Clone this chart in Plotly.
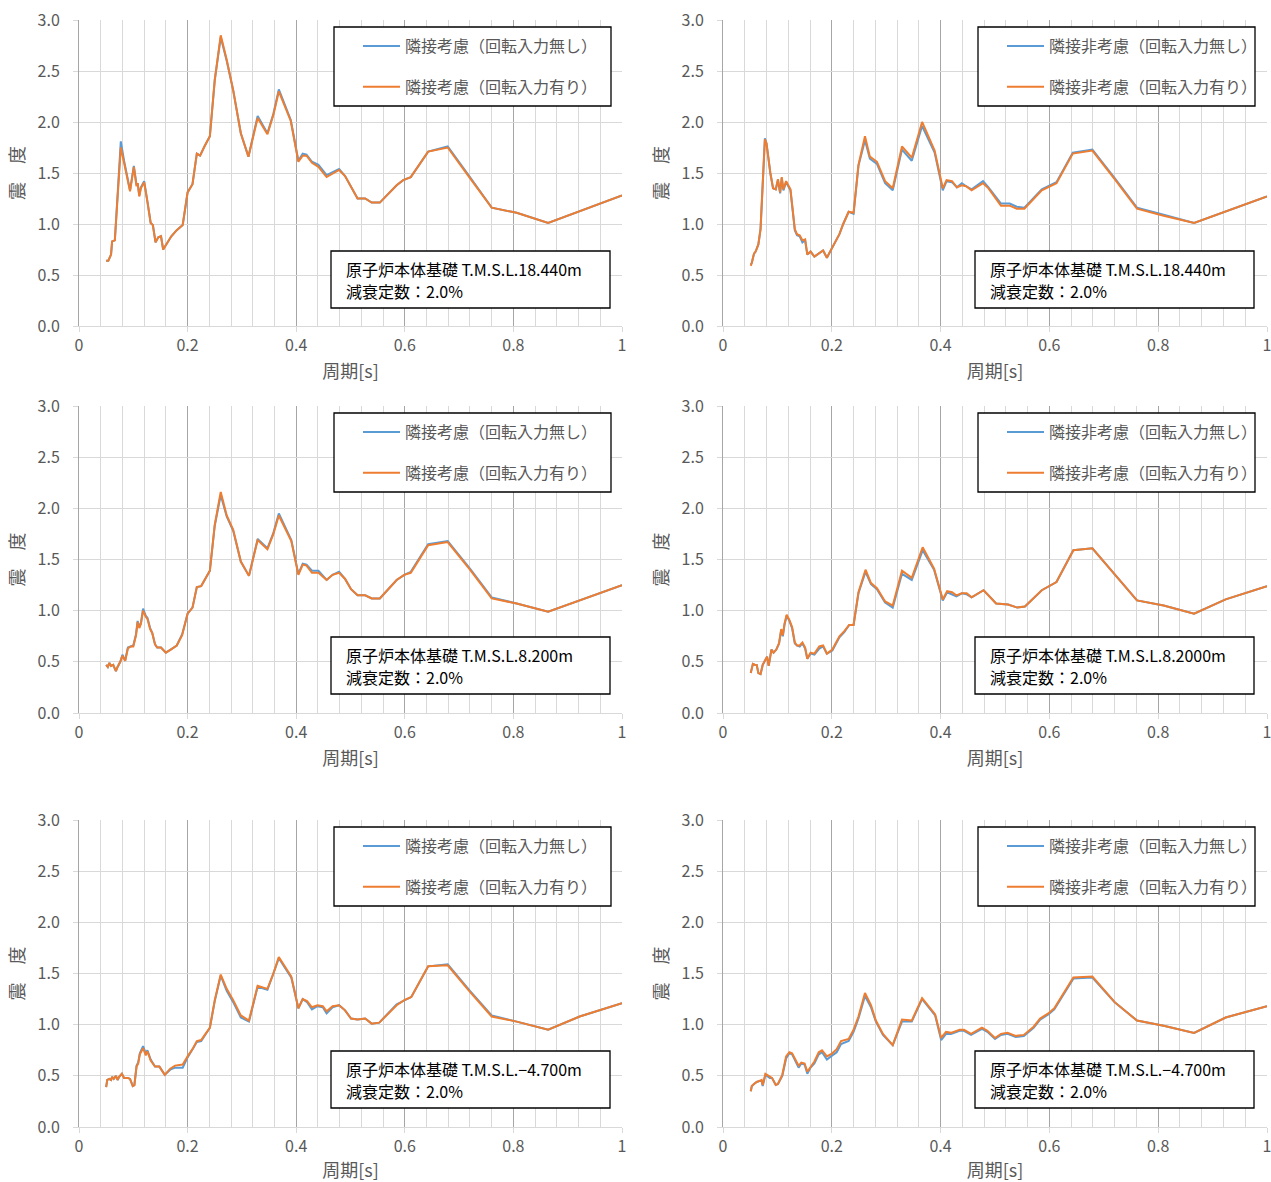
import plotly.graph_objects as go

# ---------------- data ----------------
T1 = [0.050,0.054,0.059,0.061,0.066,0.077,0.083,0.090,0.094,0.101,0.106,0.108,0.111,0.114,0.120,0.126,0.132,0.136,0.141,0.146,0.151,0.155,0.161,0.170,0.180,0.191,0.200,0.209,0.217,0.223,0.231,0.241,0.250,0.261,0.272,0.284,0.298,0.312,0.329,0.347,0.358,0.368,0.390,0.404,0.412,0.419,0.429,0.441,0.456,0.479,0.490,0.513,0.527,0.539,0.554,0.585,0.597,0.611,0.643,0.679,0.720,0.760,0.806,0.864,1.000]
O1 = [0.64,0.64,0.70,0.83,0.84,1.75,1.60,1.40,1.32,1.56,1.37,1.40,1.27,1.35,1.41,1.22,1.01,0.99,0.82,0.87,0.88,0.75,0.80,0.88,0.94,0.99,1.31,1.39,1.69,1.67,1.76,1.86,2.41,2.85,2.61,2.31,1.89,1.66,2.04,1.88,2.07,2.30,2.01,1.61,1.67,1.67,1.60,1.56,1.46,1.53,1.47,1.25,1.25,1.21,1.21,1.38,1.43,1.46,1.71,1.75,1.45,1.16,1.11,1.01,1.28]
B1 = [0.64,0.64,0.70,0.83,0.84,1.81,1.62,1.41,1.33,1.57,1.38,1.40,1.28,1.36,1.42,1.22,1.01,0.99,0.82,0.87,0.88,0.75,0.80,0.88,0.94,0.99,1.31,1.39,1.69,1.67,1.76,1.86,2.41,2.83,2.60,2.31,1.89,1.66,2.06,1.89,2.08,2.32,2.02,1.62,1.69,1.68,1.61,1.58,1.48,1.54,1.47,1.25,1.25,1.21,1.21,1.38,1.43,1.46,1.71,1.76,1.46,1.16,1.11,1.01,1.28]

T2 = [0.051,0.053,0.057,0.060,0.065,0.069,0.077,0.080,0.087,0.092,0.097,0.101,0.105,0.108,0.111,0.116,0.124,0.132,0.136,0.141,0.146,0.151,0.155,0.161,0.168,0.184,0.191,0.202,0.214,0.221,0.231,0.240,0.249,0.261,0.270,0.283,0.298,0.312,0.329,0.347,0.366,0.389,0.404,0.411,0.421,0.430,0.439,0.447,0.457,0.478,0.488,0.511,0.527,0.540,0.554,0.586,0.613,0.643,0.679,0.720,0.761,0.810,0.866,1.000]
O2 = [0.59,0.62,0.71,0.73,0.80,0.95,1.83,1.79,1.50,1.35,1.34,1.44,1.31,1.46,1.34,1.42,1.34,0.95,0.90,0.89,0.84,0.85,0.70,0.73,0.68,0.74,0.67,0.78,0.90,1.00,1.12,1.11,1.58,1.86,1.66,1.61,1.42,1.35,1.76,1.65,2.00,1.72,1.35,1.43,1.42,1.36,1.38,1.37,1.33,1.40,1.35,1.18,1.18,1.15,1.15,1.33,1.40,1.69,1.72,1.44,1.15,1.08,1.01,1.27]
B2 = [0.60,0.62,0.71,0.73,0.80,0.95,1.84,1.79,1.50,1.35,1.34,1.43,1.30,1.45,1.33,1.41,1.33,0.94,0.89,0.88,0.82,0.84,0.70,0.73,0.68,0.74,0.67,0.78,0.90,1.00,1.12,1.10,1.57,1.82,1.64,1.59,1.40,1.33,1.73,1.62,1.96,1.70,1.33,1.42,1.41,1.36,1.40,1.37,1.34,1.42,1.36,1.20,1.20,1.17,1.16,1.34,1.41,1.70,1.73,1.45,1.16,1.09,1.01,1.27]

T3 = [0.050,0.053,0.056,0.059,0.063,0.068,0.071,0.076,0.080,0.085,0.090,0.095,0.100,0.105,0.108,0.111,0.114,0.118,0.123,0.126,0.131,0.135,0.140,0.144,0.151,0.160,0.169,0.180,0.190,0.200,0.209,0.217,0.225,0.233,0.241,0.250,0.261,0.272,0.284,0.298,0.313,0.329,0.347,0.358,0.368,0.391,0.404,0.412,0.419,0.429,0.441,0.456,0.467,0.479,0.490,0.501,0.513,0.527,0.539,0.554,0.585,0.599,0.611,0.643,0.679,0.720,0.760,0.806,0.864,1.000]
O3 = [0.47,0.45,0.49,0.46,0.47,0.41,0.45,0.50,0.56,0.51,0.63,0.65,0.65,0.76,0.89,0.83,0.87,1.00,0.94,0.92,0.82,0.78,0.67,0.64,0.64,0.59,0.62,0.66,0.76,0.97,1.03,1.23,1.24,1.31,1.39,1.84,2.16,1.93,1.79,1.48,1.34,1.69,1.60,1.75,1.93,1.68,1.35,1.45,1.44,1.37,1.37,1.30,1.35,1.37,1.31,1.21,1.15,1.15,1.12,1.12,1.30,1.35,1.37,1.64,1.67,1.40,1.12,1.07,0.99,1.25]
B3 = [0.47,0.45,0.49,0.46,0.47,0.41,0.45,0.50,0.57,0.51,0.64,0.65,0.66,0.77,0.90,0.84,0.88,1.02,0.95,0.93,0.83,0.78,0.67,0.64,0.64,0.59,0.62,0.66,0.77,0.97,1.03,1.23,1.24,1.31,1.39,1.83,2.13,1.92,1.78,1.48,1.34,1.70,1.61,1.76,1.95,1.69,1.36,1.46,1.45,1.39,1.39,1.30,1.35,1.38,1.31,1.21,1.15,1.15,1.12,1.12,1.30,1.35,1.38,1.65,1.68,1.41,1.13,1.07,0.99,1.25]

T4 = [0.051,0.055,0.059,0.062,0.065,0.069,0.073,0.078,0.081,0.084,0.089,0.093,0.098,0.103,0.107,0.110,0.113,0.117,0.122,0.127,0.132,0.136,0.141,0.146,0.151,0.155,0.161,0.168,0.177,0.184,0.191,0.201,0.214,0.223,0.232,0.240,0.249,0.262,0.272,0.283,0.298,0.312,0.329,0.347,0.367,0.388,0.404,0.412,0.421,0.429,0.439,0.448,0.457,0.479,0.490,0.502,0.524,0.541,0.555,0.586,0.613,0.644,0.679,0.720,0.761,0.810,0.866,0.924,1.000]
O4 = [0.39,0.48,0.47,0.47,0.39,0.38,0.47,0.52,0.55,0.46,0.62,0.59,0.62,0.68,0.82,0.76,0.87,0.96,0.91,0.84,0.69,0.66,0.66,0.69,0.64,0.53,0.59,0.58,0.65,0.66,0.58,0.62,0.75,0.80,0.86,0.86,1.18,1.40,1.27,1.22,1.09,1.05,1.39,1.32,1.62,1.41,1.11,1.19,1.18,1.15,1.17,1.17,1.13,1.20,1.14,1.07,1.06,1.03,1.04,1.20,1.28,1.59,1.61,1.35,1.10,1.05,0.97,1.11,1.24]
B4 = [0.39,0.48,0.47,0.47,0.39,0.38,0.47,0.52,0.55,0.46,0.62,0.59,0.62,0.68,0.81,0.75,0.86,0.95,0.90,0.83,0.68,0.66,0.65,0.68,0.63,0.53,0.58,0.57,0.63,0.65,0.58,0.61,0.74,0.79,0.86,0.86,1.17,1.38,1.26,1.21,1.08,1.03,1.36,1.30,1.59,1.40,1.10,1.18,1.16,1.14,1.17,1.16,1.13,1.20,1.14,1.07,1.06,1.03,1.04,1.20,1.28,1.59,1.61,1.35,1.10,1.05,0.97,1.11,1.24]

T5 = [0.050,0.052,0.056,0.059,0.061,0.064,0.068,0.071,0.074,0.079,0.083,0.090,0.094,0.099,0.102,0.106,0.109,0.112,0.118,0.123,0.126,0.132,0.140,0.148,0.158,0.168,0.177,0.191,0.200,0.210,0.217,0.225,0.233,0.241,0.250,0.261,0.272,0.284,0.298,0.313,0.329,0.347,0.358,0.368,0.391,0.404,0.412,0.420,0.429,0.439,0.449,0.456,0.467,0.479,0.490,0.501,0.513,0.527,0.539,0.553,0.585,0.599,0.612,0.643,0.679,0.720,0.760,0.806,0.864,0.922,1.000]
O5 = [0.39,0.46,0.47,0.46,0.49,0.47,0.50,0.46,0.49,0.52,0.48,0.48,0.47,0.40,0.41,0.59,0.62,0.71,0.77,0.70,0.74,0.65,0.59,0.59,0.51,0.57,0.60,0.61,0.69,0.77,0.84,0.85,0.91,0.97,1.24,1.49,1.35,1.24,1.09,1.04,1.38,1.35,1.50,1.66,1.47,1.16,1.25,1.23,1.17,1.19,1.18,1.13,1.18,1.19,1.14,1.06,1.05,1.06,1.01,1.02,1.19,1.24,1.27,1.57,1.58,1.32,1.08,1.03,0.95,1.08,1.21]
B5 = [0.39,0.46,0.47,0.46,0.49,0.47,0.50,0.46,0.49,0.52,0.48,0.48,0.47,0.40,0.41,0.60,0.63,0.72,0.79,0.72,0.75,0.66,0.59,0.59,0.51,0.56,0.58,0.58,0.68,0.77,0.83,0.84,0.90,0.97,1.23,1.48,1.33,1.22,1.07,1.03,1.37,1.34,1.50,1.65,1.46,1.16,1.25,1.22,1.15,1.18,1.17,1.11,1.17,1.19,1.14,1.06,1.05,1.06,1.01,1.02,1.20,1.24,1.27,1.57,1.59,1.33,1.09,1.03,0.95,1.08,1.21]

T6 = [0.051,0.053,0.057,0.062,0.067,0.071,0.073,0.078,0.081,0.086,0.090,0.097,0.101,0.109,0.116,0.122,0.127,0.132,0.139,0.144,0.150,0.155,0.161,0.168,0.176,0.182,0.191,0.201,0.209,0.217,0.231,0.240,0.249,0.261,0.272,0.281,0.294,0.312,0.329,0.347,0.366,0.390,0.401,0.410,0.419,0.435,0.443,0.456,0.476,0.486,0.500,0.511,0.523,0.538,0.553,0.571,0.583,0.598,0.609,0.644,0.679,0.720,0.761,0.810,0.866,0.924,1.000]
O6 = [0.35,0.40,0.42,0.44,0.45,0.46,0.41,0.52,0.51,0.49,0.48,0.41,0.42,0.51,0.69,0.73,0.72,0.67,0.60,0.63,0.62,0.54,0.59,0.64,0.73,0.75,0.69,0.72,0.76,0.84,0.86,0.95,1.08,1.31,1.19,1.04,0.91,0.80,1.05,1.04,1.26,1.10,0.87,0.93,0.92,0.95,0.95,0.91,0.97,0.94,0.87,0.91,0.92,0.89,0.90,0.98,1.06,1.11,1.16,1.46,1.47,1.22,1.04,0.99,0.92,1.07,1.18]
B6 = [0.35,0.40,0.42,0.44,0.45,0.45,0.40,0.51,0.50,0.48,0.48,0.41,0.42,0.50,0.67,0.72,0.71,0.66,0.58,0.62,0.61,0.52,0.58,0.62,0.71,0.73,0.66,0.70,0.73,0.81,0.84,0.93,1.06,1.28,1.17,1.03,0.90,0.80,1.03,1.03,1.25,1.09,0.85,0.91,0.91,0.94,0.94,0.90,0.96,0.93,0.86,0.90,0.91,0.88,0.89,0.97,1.05,1.10,1.15,1.45,1.46,1.22,1.04,0.99,0.92,1.07,1.18]

LEG_ADJ = ["隣接考慮（回転入力無し）", "隣接考慮（回転入力有り）"]
LEG_NON = ["隣接非考慮（回転入力無し）", "隣接非考慮（回転入力有り）"]
LOC = ["原子炉本体基礎 T.M.S.L.18.440m", "原子炉本体基礎 T.M.S.L.18.440m",
       "原子炉本体基礎 T.M.S.L.8.200m", "原子炉本体基礎 T.M.S.L.8.2000m",
       "原子炉本体基礎 T.M.S.L.−4.700m", "原子炉本体基礎 T.M.S.L.−4.700m"]
DAMP = "減衰定数：2.0%"
X_TICKS = [0, 0.2, 0.4, 0.6, 0.8, 1.0]
X_TICKTEXT = ["0", "0.2", "0.4", "0.6", "0.8", "1"]
X_TITLE = "周期[s]"
Y_TITLE = "震　度"

panels = [
    (T1, B1, O1, LEG_ADJ), (T2, B2, O2, LEG_NON),
    (T3, B3, O3, LEG_ADJ), (T4, B4, O4, LEG_NON),
    (T5, B5, O5, LEG_ADJ), (T6, B6, O6, LEG_NON),
]

# ---------------- layout geometry (pixels) ----------------
W, H = 1271, 1182
def fx(p): return p / W
def fy(p): return 1 - p / H

COLS = [(79, 622), (723, 1267)]
ROWS = [(20, 326), (406, 713), (820, 1127)]

BLUE = "#5B9BD5"
ORANGE = "#ED7D31"
GRAY_TXT = "#595959"
FONT = "Noto Sans CJK JP, Noto Sans, sans-serif"

fig = go.Figure()
layout = dict(
    width=W, height=H, autosize=False,
    margin=dict(l=0, r=0, t=0, b=0, autoexpand=False),
    paper_bgcolor="white", plot_bgcolor="white",
    font=dict(family=FONT, color=GRAY_TXT, size=14),
    showlegend=True,
)
shapes = []
annotations = []

for i, (T, B, O, legnames) in enumerate(panels):
    r, c = divmod(i, 2)
    x0, x1 = COLS[c]
    y0, y1 = ROWS[r]
    n = "" if i == 0 else str(i + 1)
    lg = "legend" if i == 0 else "legend" + str(i + 1)
    fig.add_trace(go.Scatter(x=T, y=B, mode="lines", name=legnames[0],
                             line=dict(color=BLUE, width=2), xaxis="x" + n, yaxis="y" + n,
                             legend=lg, legendgroup="a%d" % i))
    fig.add_trace(go.Scatter(x=T, y=O, mode="lines", name=legnames[1],
                             line=dict(color=ORANGE, width=2), xaxis="x" + n, yaxis="y" + n,
                             legend=lg, legendgroup="b%d" % i))
    layout["xaxis" + n] = dict(
        domain=[fx(x0), fx(x1)], anchor="y" + n, range=[0, 1],
        tickmode="array", tickvals=X_TICKS, ticktext=X_TICKTEXT,
        showgrid=True, gridcolor="#A6A6A6", gridwidth=1,
        minor=dict(tickmode="linear", tick0=0, dtick=0.04, showgrid=True,
                   gridcolor="#D9D9D9", gridwidth=1, ticks=""),
        ticks="outside", ticklen=5, tickcolor="#D9D9D9", ticklabelstandoff=0,
        ticklabeloverflow="allow",
        showline=True, linecolor="#D9D9D9", linewidth=1, zeroline=False,
        tickfont=dict(size=16, color=GRAY_TXT),
        title=dict(text=X_TITLE, font=dict(size=18, color=GRAY_TXT), standoff=10),
        automargin=False, fixedrange=True,
    )
    layout["yaxis" + n] = dict(
        domain=[fy(y1), fy(y0)], anchor="x" + n, range=[0, 3],
        tickmode="linear", tick0=0, dtick=0.5, tickformat=".1f",
        showgrid=True, gridcolor="#D9D9D9", gridwidth=1,
        ticks="outside", ticklen=5, tickcolor="#D9D9D9", ticklabelstandoff=10,
        ticklabeloverflow="allow",
        showline=True, linecolor="#A6A6A6", linewidth=1, zeroline=False,
        tickfont=dict(size=16, color=GRAY_TXT),
        title=dict(text=Y_TITLE, font=dict(size=18, color=GRAY_TXT), standoff=8),
        automargin=False, fixedrange=True,
    )
    # legend frame
    shapes.append(dict(type="rect", xref="paper", yref="paper",
                       x0=fx(x0 + 255), x1=fx(x0 + 532), y0=fy(y0 + 86), y1=fy(y0 + 7),
                       line=dict(color="black", width=1.3), fillcolor="white", layer="above"))
    layout[lg] = dict(
        x=fx(x0 + 279), y=fy(y0 + 9), xanchor="left", yanchor="top",
        bgcolor="rgba(0,0,0,0)", borderwidth=0,
        font=dict(size=16, color=GRAY_TXT, family=FONT),
        traceorder="grouped", tracegroupgap=17, itemwidth=37,
    )
    # info box
    shapes.append(dict(type="rect", xref="paper", yref="paper",
                       x0=fx(x0 + 252), x1=fx(x0 + 531), y0=fy(y0 + 288), y1=fy(y0 + 231),
                       line=dict(color="black", width=1.3), fillcolor="white", layer="above"))
    annotations.append(dict(xref="paper", yref="paper", x=fx(x0 + 265), y=fy(y0 + 249),
                            xanchor="left", yanchor="middle", showarrow=False,
                            text=LOC[i], font=dict(size=16, color="black", family=FONT)))
    annotations.append(dict(xref="paper", yref="paper", x=fx(x0 + 265), y=fy(y0 + 271),
                            xanchor="left", yanchor="middle", showarrow=False,
                            text=DAMP, font=dict(size=16, color="black", family=FONT)))

layout["shapes"] = shapes
layout["annotations"] = annotations
fig.update_layout(**layout)
# remove the browser's default 8px body margin so the figure fills the window exactly
fig.write_html("out.html",
               config={"displayModeBar": False, "staticPlot": True},
               post_script="document.body.style.margin='0';document.body.style.overflow='hidden';")
